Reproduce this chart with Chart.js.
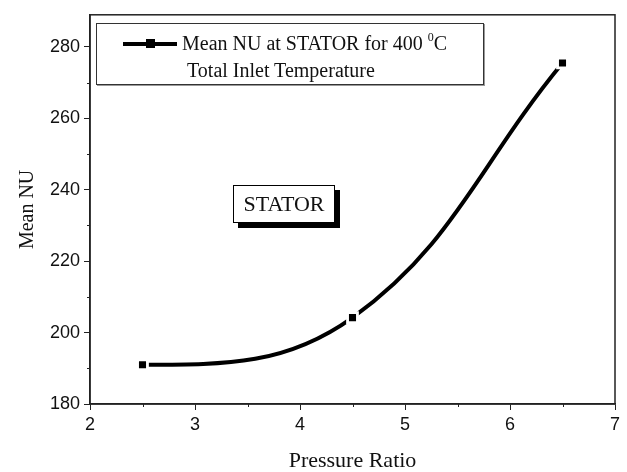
<!DOCTYPE html>
<html>
<head>
<meta charset="utf-8">
<script src="https://cdn.jsdelivr.net/npm/chart.js@4.4.0/dist/chart.umd.min.js"></script>
<style>
  html, body { margin: 0; padding: 0; background: #fff; }
  #wrap { position: relative; width: 627px; height: 472px; }
  #chart { position: absolute; left: 0; top: 0; }
  .serif { font-family: "Liberation Serif", "Times New Roman", serif; color: #111; }
  #legend { position: absolute; left: 96px; top: 23px; width: 386px; height: 60px;
            border: 1px solid #333; background: #fff; box-shadow: 1px 1px 0 #999; }
  #legend .sample { position: absolute; left: 26px; top: 18px; width: 54px; height: 4px; background: #000; }
  #legend .mark { position: absolute; left: 49px; top: 15px; width: 9px; height: 9px; background: #000; }
  #legend .txt { position: absolute; font-size: 20px; line-height: 22px; white-space: nowrap; }
  #legend sup { font-size: 12px; line-height: 0; vertical-align: baseline; position: relative; top: -9px; }
  #stator { position: absolute; left: 233px; top: 185px; width: 100px; height: 36px;
            border: 1px solid #000; background: #fff; box-shadow: 5px 5px 0 #000;
            font-size: 22px; line-height: 36px; text-align: center; }
</style>
</head>
<body>
<div id="wrap">
  <canvas id="chart" width="627" height="472"></canvas>
  <div id="legend" class="serif">
    <div class="sample"></div>
    <div class="mark"></div>
    <div class="txt" style="left:85px; top:8px;">Mean NU at STATOR for 400 <sup>0</sup>C</div>
    <div class="txt" style="left:90px; top:35px;">Total Inlet Temperature</div>
  </div>
  <div id="stator" class="serif">STATOR</div>
</div>
<script>
// data
var pressureRatio = [2.5, 4.5, 6.5];
var meanNu        = [191, 204.2, 275.5];
var xTicks = [2, 3, 4, 5, 6, 7];
var yTicks = [180, 200, 220, 240, 260, 280];

var titik = pressureRatio.map(function(x, i) { return { x: x, y: meanNu[i] }; });

// garis mulai datar di titik pertama
var flatStart = {
  id: 'flatStart',
  beforeDatasetDraw: function(chart, args) {
    if (args.index !== 0) return;
    var meta = args.meta;
    meta.dataset.updateControlPoints(chart.chartArea, meta.iScale.axis);
    var p = meta.data[0];
    if (p) p.cp2y = p.y;
  }
};

// bingkai + minor ticks
var frameTicks = {
  id: 'frameTicks',
  afterDraw: function(chart) {
    var ctx = chart.ctx, a = chart.chartArea;
    ctx.save();
    ctx.strokeStyle = '#222';
    ctx.lineWidth = 1.5;
    ctx.strokeRect(a.left, a.top, a.right - a.left, a.bottom - a.top);

    ctx.lineWidth = 1;
    ctx.beginPath();
    var xs = chart.scales.x, ys = chart.scales.y;
    for (var i = 0; i < xTicks.length - 1; i++) {
      var px = Math.round(xs.getPixelForValue((xTicks[i] + xTicks[i + 1]) / 2)) + 0.5;
      ctx.moveTo(px, a.bottom);
      ctx.lineTo(px, a.bottom + 3);
    }
    for (var j = 0; j < yTicks.length - 1; j++) {
      var py = Math.round(ys.getPixelForValue((yTicks[j] + yTicks[j + 1]) / 2)) + 0.5;
      ctx.moveTo(a.left, py);
      ctx.lineTo(a.left - 3, py);
    }
    ctx.stroke();
    ctx.restore();
  }
};

var fontTick  = { family: '"Liberation Sans", Arial, sans-serif', size: 18 };
var serifFam  = '"Liberation Serif", "Times New Roman", serif';

new Chart(document.getElementById('chart'), {
  type: 'scatter',
  data: {
    datasets: [
      {
        label: 'Mean NU',
        data: titik,
        showLine: true,
        tension: 0.4,
        borderColor: '#000',
        borderWidth: 4,
        pointRadius: 0,
        order: 3
      },
      {
        // celah putih di sekitar marker
        label: 'gap',
        data: titik,
        pointStyle: 'rect',
        pointRadius: 9,
        pointBackgroundColor: '#fff',
        pointBorderWidth: 0,
        order: 2
      },
      {
        label: 'marker',
        data: titik,
        pointStyle: 'rect',
        pointRadius: 5,
        pointBackgroundColor: '#000',
        pointBorderWidth: 0,
        order: 1
      }
    ]
  },
  options: {
    responsive: false,
    animation: false,
    layout: { padding: { left: 0, right: 12, top: 9, bottom: 0 } },
    plugins: {
      legend: { display: false },
      tooltip: { enabled: false }
    },
    scales: {
      x: {
        type: 'linear',
        min: 2, max: 7,
        afterBuildTicks: function(s) { s.ticks = xTicks.map(function(v) { return { value: v }; }); },
        afterFit: function(s) { s.height = 68; },
        grid: { drawOnChartArea: false, tickLength: 6, color: '#222', tickWidth: 1 },
        border: { color: '#222', width: 1.5 },
        ticks: { font: fontTick, color: '#111', padding: 4, maxRotation: 0 },
        title: { display: true, text: 'Pressure Ratio', font: { family: serifFam, size: 22, lineHeight: 1 }, color: '#111', padding: { top: 0, bottom: 0 } }
      },
      y: {
        min: 180, max: 289,
        afterBuildTicks: function(s) { s.ticks = yTicks.map(function(v) { return { value: v }; }); },
        afterFit: function(s) { s.width = 90; },
        grid: { drawOnChartArea: false, tickLength: 6, color: '#222', tickWidth: 1 },
        border: { color: '#222', width: 1.5 },
        ticks: { font: fontTick, color: '#111', padding: 4 },
        title: { display: true, text: 'Mean NU', font: { family: serifFam, size: 20 }, color: '#111', padding: { top: 16, bottom: 0 } }
      }
    }
  },
  plugins: [flatStart, frameTicks]
});
</script>
</body>
</html>
